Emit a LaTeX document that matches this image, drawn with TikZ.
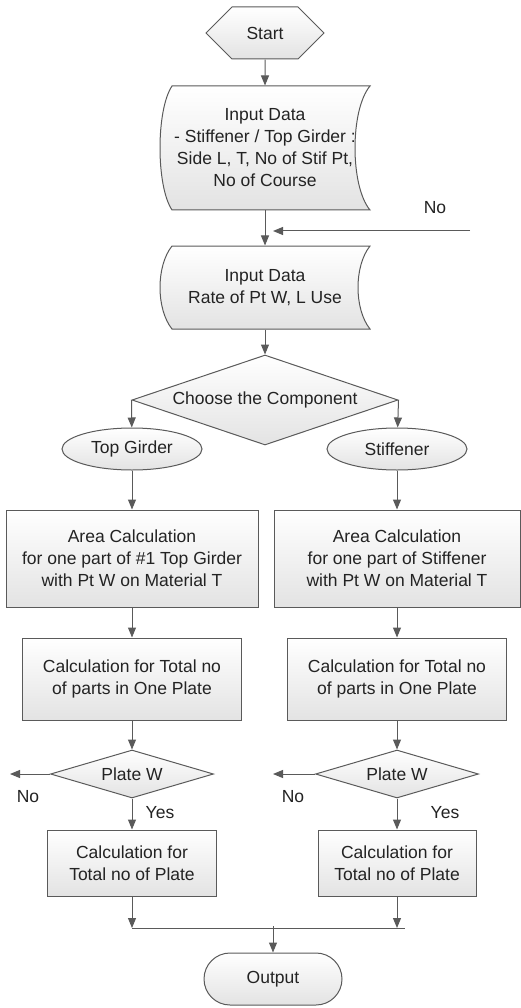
\documentclass[tikz,border=0pt]{standalone}
\usepackage{fontspec}
\setmainfont{Liberation Sans}
\usetikzlibrary{shapes.geometric,shapes.symbols,arrows.meta}

\definecolor{lineGray}{RGB}{90,90,90}
\definecolor{textGray}{RGB}{35,35,35}

\tikzset{every picture/.style={line width=1pt}}
\tikzset{
  flow/.style={draw=lineGray, top color=white, bottom color=black!11, text=textGray,
    align=center, font=\fontsize{17.5}{22}\selectfont, inner sep=0pt},
  proc/.style={flow, rectangle},
  dec/.style={flow, diamond, aspect=3},
  term/.style={flow, ellipse},
  txt/.style={text=textGray, align=center, font=\fontsize{17.5}{22}\selectfont, inner sep=0pt},
  datafill/.style={draw=lineGray, top color=white, bottom color=black!11},
  arr/.style={draw=lineGray, -{Triangle[length=10pt,width=8pt]}},
}

\begin{document}
\begin{tikzpicture}[x=1pt,y=1pt,yscale=-1,xscale=1]
	\useasboundingbox (0,0) rectangle (521,1008);

	% Start
	\node[flow, signal, signal to=west and east, signal pointer angle=90,
	  minimum width=118pt, minimum height=52pt] (start) at (265,33) {Start};

	%Shape: stored data 1
	\draw[datafill] (172,86) -- (370,86) .. controls (350,110) and (350,186) .. (370,210)
	  -- (172,210) .. controls (156,186) and (156,110) .. (172,86) -- cycle;
	\node[txt, minimum width=210pt, minimum height=124pt] (in1) at (265,148)
	  {Input Data\\- Stiffener / Top Girder :\\Side L, T, No of Stif Pt,\\No of Course};

	%Shape: stored data 2
	\draw[datafill] (172,246) -- (370,246) .. controls (354,266) and (354,309) .. (370,329)
	  -- (172,329) .. controls (156,309) and (156,266) .. (172,246) -- cycle;
	\node[txt, minimum width=210pt, minimum height=83pt] (in2) at (265,287.5)
	  {Input Data\\Rate of Pt W, L Use};

	% Decision
	\node[dec, minimum width=266pt, minimum height=90pt] (choose) at (265,400) {Choose the Component};

	% Branches
	\node[term, minimum width=140pt, minimum height=42pt] (tg) at (132,449) {Top Girder};
	\node[term, minimum width=140pt, minimum height=42pt] (st) at (397,449) {Stiffener};

	\node[proc, minimum width=252pt, minimum height=97pt] (area1) at (132,558.5)
	  {Area Calculation\\for one part of \#1 Top Girder\\with Pt W on Material T};
	\node[proc, minimum width=246pt, minimum height=97pt] (area2) at (397,558.5)
	  {Area Calculation\\for one part of Stiffener\\with Pt W on Material T};

	\node[proc, minimum width=219pt, minimum height=82pt] (calc1) at (132,679)
	  {Calculation for Total no\\of parts in One Plate};
	\node[proc, minimum width=219pt, minimum height=82pt] (calc2) at (397,679)
	  {Calculation for Total no\\of parts in One Plate};

	\node[dec, minimum width=163pt, minimum height=48pt] (plate1) at (132,774) {Plate W};
	\node[dec, minimum width=163pt, minimum height=48pt] (plate2) at (397,774) {Plate W};

	\node[proc, minimum width=169pt, minimum height=66pt] (pl1) at (132,863)
	  {Calculation for\\Total no of Plate};
	\node[proc, minimum width=158pt, minimum height=66pt] (pl2) at (397,863)
	  {Calculation for\\Total no of Plate};

	% Output
	\node[flow, rectangle, rounded corners=26pt, minimum width=138pt, minimum height=52pt]
	  (out) at (273,979) {Output};

	% free ends
	\coordinate (fbstart) at (470,231);
	\coordinate (fbend) at (273,231);
	\coordinate (no1) at (10,774);
	\coordinate (no2) at (273,774);
	\coordinate (jl) at (132,928);
	\coordinate (jr) at (405,928);
	\coordinate (jm) at (273,926);

	% Connectors
	\draw[arr] (start) -- (in1);
	\draw[arr] (in1) -- (in2);
	\draw[arr] (fbstart) -- (fbend);
	\draw[arr] (in2) -- (choose);
	\draw[arr] (choose.west) -- (tg);
	\draw[arr] (choose.east) -- (st);
	\draw[arr] (tg) -- (area1);
	\draw[arr] (st) -- (area2);
	\draw[arr] (area1) -- (calc1);
	\draw[arr] (area2) -- (calc2);
	\draw[arr] (calc1) -- (plate1);
	\draw[arr] (calc2) -- (plate2);
	\draw[arr] (plate1) -- (no1);
	\draw[arr] (plate2) -- (no2);
	\draw[arr] (plate1) -- (pl1);
	\draw[arr] (plate2) -- (pl2);
	\draw[arr] (pl1) -- (jl);
	\draw[arr] (pl2) -- (pl2 |- jr);
	\draw[draw=lineGray] (jl) -- (jr);
	\draw[arr] (jm) -- (out);

	% Text Nodes
	\node[txt] (lblNoTop) at (435,208) {No};
	\node[txt] (lblNo1) at (28,797) {No};
	\node[txt] (lblNo2) at (293,797) {No};
	\node[txt] (lblYes1) at (160,813) {Yes};
	\node[txt] (lblYes2) at (445,813) {Yes};

\end{tikzpicture}
\end{document}
